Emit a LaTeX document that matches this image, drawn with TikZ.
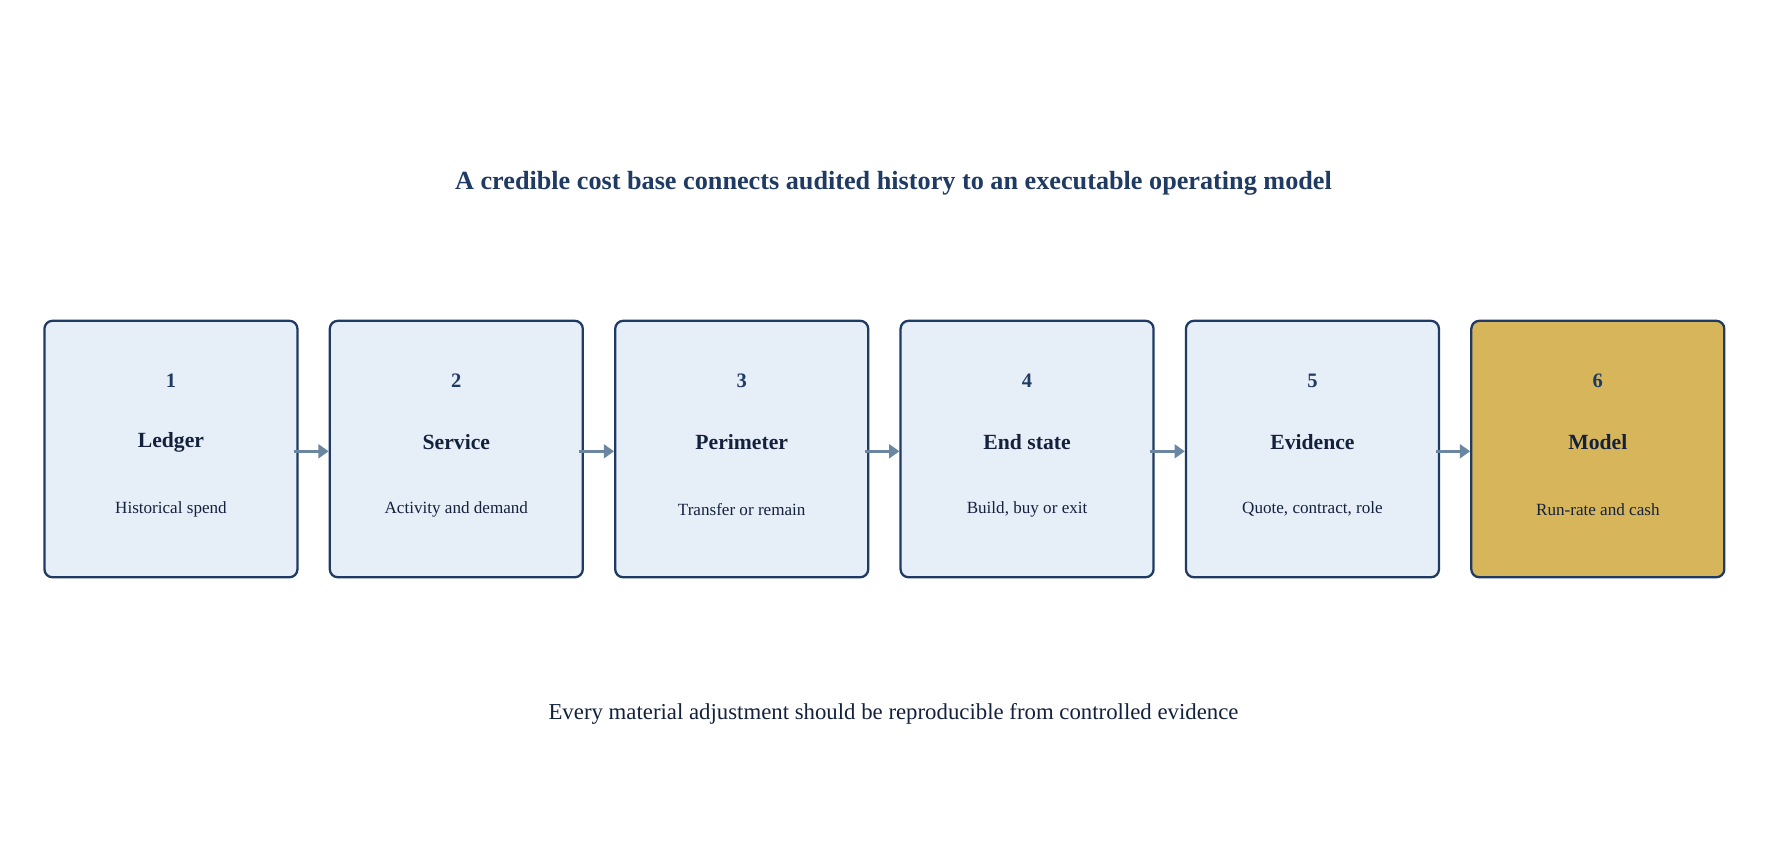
\documentclass[tikz,border=0pt]{standalone}
\usepackage{fontspec}
\setmainfont{Liberation Serif}
\usetikzlibrary{arrows.meta}
\definecolor{navy}{HTML}{1F3A63}
\definecolor{boxfill}{HTML}{E6EEF7}
\definecolor{gold}{HTML}{D6B55B}
\definecolor{arr}{HTML}{6B86A0}
\definecolor{ink}{HTML}{14213D}
\begin{document}
\begin{tikzpicture}[x=1pt,y=-1pt,
  box/.style={draw=navy,line width=2pt,fill=boxfill,rounded corners=7pt,minimum width=222pt,minimum height=225pt,inner sep=0pt},
  numst/.style={font=\bfseries\fontsize{18}{20}\selectfont,text=navy},
  lblst/.style={font=\bfseries\fontsize{19}{22}\selectfont,text=ink},
  subst/.style={font=\fontsize{15}{18}\selectfont,text=ink},
  conn/.style={draw=arr,line width=2.5pt,-{Triangle[length=9pt,width=12pt]}}]
\useasboundingbox[fill=white] (0,0) rectangle (1568,747);
\node[font=\bfseries\fontsize{23}{26}\selectfont,text=navy] (title) at (784,161) {A credible cost base connects audited history to an executable operating model};
\foreach \i/\n/\s in {1/Ledger/Historical spend,2/Service/Activity and demand,3/Perimeter/Transfer or remain,4/End state/{Build, buy or exit},5/Evidence/{Quote, contract, role},6/Model/Run-rate and cash}{
  \pgfmathsetmacro{\cx}{150+(\i-1)*250.4}
  \ifnum\i=6
    \node[box,fill=gold] (b\i) at (\cx,394) {};
  \else
    \node[box] (b\i) at (\cx,394) {};
  \fi
  \node[numst] (n\i) at (\cx,334) {\i};
  \node[lblst] (m\i) at (\cx,388) {\n};
  \node[subst] (s\i) at (\cx,447) {\s};
}
\foreach \i/\j in {1/2,2/3,3/4,4/5,5/6}{
  \draw[conn] ([xshift=-4pt,yshift=-2pt]b\i.east) -- ([yshift=-2pt]b\j.west);
}
\node[font=\fontsize{20}{24}\selectfont,text=ink] (foot) at (784,626) {Every material adjustment should be reproducible from controlled evidence};
\end{tikzpicture}
\end{document}
